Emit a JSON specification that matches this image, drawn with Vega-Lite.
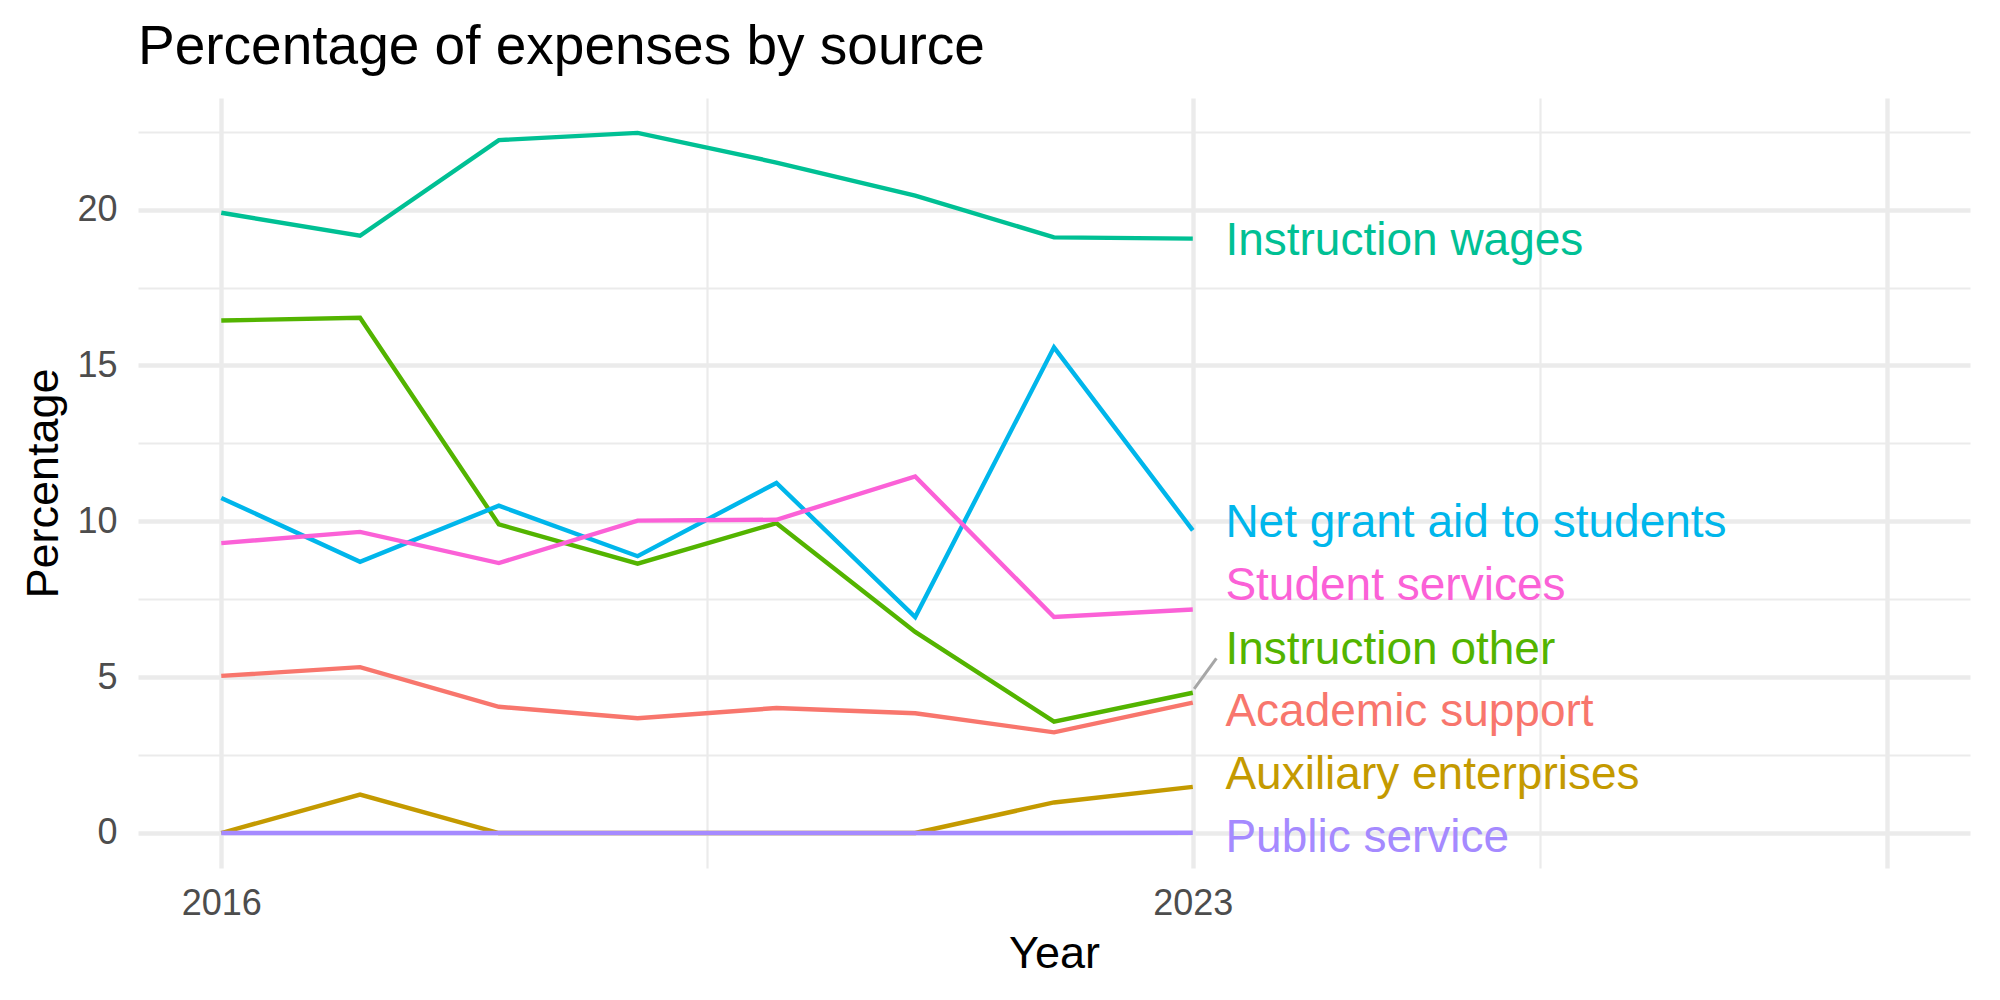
{
  "$schema": "https://vega.github.io/schema/vega-lite/v6.json",
  "autosize": {"type": "none"},
  "width": 1832,
  "height": 770,
  "padding": {"left": 138, "top": 98, "right": 30, "bottom": 132},
  "background": "white",
  "title": {
    "text": "Percentage of expenses by source",
    "anchor": "start",
    "frame": "group",
    "font": "Liberation Sans",
    "fontSize": 55,
    "fontWeight": "normal",
    "color": "#000000",
    "baseline": "alphabetic",
    "offset": 35,
    "dy": 56
  },
  "datasets": {
    "series": [
      {"year": 2016, "series": "Academic support", "value": 5.04},
      {"year": 2017, "series": "Academic support", "value": 5.32},
      {"year": 2018, "series": "Academic support", "value": 4.05},
      {"year": 2019, "series": "Academic support", "value": 3.68},
      {"year": 2020, "series": "Academic support", "value": 4.01},
      {"year": 2021, "series": "Academic support", "value": 3.84},
      {"year": 2022, "series": "Academic support", "value": 3.23},
      {"year": 2023, "series": "Academic support", "value": 4.18},
      {"year": 2016, "series": "Auxiliary enterprises", "value": 0},
      {"year": 2017, "series": "Auxiliary enterprises", "value": 1.23},
      {"year": 2018, "series": "Auxiliary enterprises", "value": 0},
      {"year": 2019, "series": "Auxiliary enterprises", "value": 0},
      {"year": 2020, "series": "Auxiliary enterprises", "value": 0},
      {"year": 2021, "series": "Auxiliary enterprises", "value": 0},
      {"year": 2022, "series": "Auxiliary enterprises", "value": 0.98},
      {"year": 2023, "series": "Auxiliary enterprises", "value": 1.48},
      {"year": 2016, "series": "Instruction other", "value": 16.44},
      {"year": 2017, "series": "Instruction other", "value": 16.53},
      {"year": 2018, "series": "Instruction other", "value": 9.9},
      {"year": 2019, "series": "Instruction other", "value": 8.64},
      {"year": 2020, "series": "Instruction other", "value": 9.94},
      {"year": 2021, "series": "Instruction other", "value": 6.45},
      {"year": 2022, "series": "Instruction other", "value": 3.57},
      {"year": 2023, "series": "Instruction other", "value": 4.5},
      {"year": 2016, "series": "Instruction wages", "value": 19.9},
      {"year": 2017, "series": "Instruction wages", "value": 19.16},
      {"year": 2018, "series": "Instruction wages", "value": 22.23},
      {"year": 2019, "series": "Instruction wages", "value": 22.46},
      {"year": 2020, "series": "Instruction wages", "value": 21.51},
      {"year": 2021, "series": "Instruction wages", "value": 20.45},
      {"year": 2022, "series": "Instruction wages", "value": 19.11},
      {"year": 2023, "series": "Instruction wages", "value": 19.07},
      {"year": 2016, "series": "Net grant aid to students", "value": 10.75},
      {"year": 2017, "series": "Net grant aid to students", "value": 8.7},
      {"year": 2018, "series": "Net grant aid to students", "value": 10.5},
      {"year": 2019, "series": "Net grant aid to students", "value": 8.88},
      {"year": 2020, "series": "Net grant aid to students", "value": 11.23},
      {"year": 2021, "series": "Net grant aid to students", "value": 6.93},
      {"year": 2022, "series": "Net grant aid to students", "value": 15.58},
      {"year": 2023, "series": "Net grant aid to students", "value": 9.71},
      {"year": 2016, "series": "Public service", "value": 0},
      {"year": 2017, "series": "Public service", "value": 0},
      {"year": 2018, "series": "Public service", "value": 0},
      {"year": 2019, "series": "Public service", "value": 0},
      {"year": 2020, "series": "Public service", "value": 0},
      {"year": 2021, "series": "Public service", "value": 0},
      {"year": 2022, "series": "Public service", "value": 0},
      {"year": 2023, "series": "Public service", "value": 0.01},
      {"year": 2016, "series": "Student services", "value": 9.3},
      {"year": 2017, "series": "Student services", "value": 9.66},
      {"year": 2018, "series": "Student services", "value": 8.66},
      {"year": 2019, "series": "Student services", "value": 10.02},
      {"year": 2020, "series": "Student services", "value": 10.05},
      {"year": 2021, "series": "Student services", "value": 11.44},
      {"year": 2022, "series": "Student services", "value": 6.93},
      {"year": 2023, "series": "Student services", "value": 7.17}
    ],
    "labels": [
      {"series": "Instruction wages", "label_year": 2023.235, "label_value": 18.99},
      {"series": "Net grant aid to students", "label_year": 2023.235, "label_value": 9.95},
      {"series": "Student services", "label_year": 2023.235, "label_value": 7.93},
      {"series": "Instruction other", "label_year": 2023.235, "label_value": 5.87},
      {"series": "Academic support", "label_year": 2023.235, "label_value": 3.87},
      {"series": "Auxiliary enterprises", "label_year": 2023.235, "label_value": 1.85},
      {"series": "Public service", "label_year": 2023.235, "label_value": -0.15}
    ],
    "leaders": [
      {"series": "Instruction other", "from_year": 2023.01, "from_value": 4.62, "to_year": 2023.17, "to_value": 5.6}
    ]
  },
  "layer": [
    {
      "data": {"name": "series"},
      "mark": {"type": "line", "strokeWidth": 4.4, "strokeJoin": "miter", "strokeCap": "butt"},
      "encoding": {
        "x": {
          "field": "year", "type": "quantitative",
          "scale": {"domain": [2015.4, 2028.6], "nice": false, "zero": false},
          "axis": {
            "title": "Year",
            "values": [2016, 2019.5, 2023, 2025.5, 2028],
            "labelExpr": "datum.value == 2016 || datum.value == 2023 ? format(datum.value, 'd') : ''",
            "labelPadding": 18,
            "titlePadding": 10,
            "gridWidth": {"condition": {"test": "datum.value == 2019.5 || datum.value == 2025.5", "value": 2.2}, "value": 4.4}
          }
        },
        "y": {
          "field": "value", "type": "quantitative",
          "scale": {"domain": [-1.123, 23.58], "nice": false, "zero": false},
          "axis": {
            "title": "Percentage",
            "values": [0, 2.5, 5, 7.5, 10, 12.5, 15, 17.5, 20, 22.5],
            "labelExpr": "datum.value % 5 == 0 ? format(datum.value, 'd') : ''",
            "labelPadding": 21,
            "titlePadding": 10,
            "gridWidth": {"condition": {"test": "datum.value % 5 != 0", "value": 2.2}, "value": 4.4}
          }
        },
        "color": {
          "field": "series", "type": "nominal", "legend": null,
          "scale": {
            "domain": ["Academic support", "Auxiliary enterprises", "Instruction other", "Instruction wages", "Net grant aid to students", "Public service", "Student services"],
            "range": ["#F8766D", "#C49A00", "#53B400", "#00C094", "#00B6EB", "#A58AFF", "#FB61D7"]
          }
        }
      }
    },
    {
      "data": {"name": "leaders"},
      "mark": {"type": "rule", "color": "#A6A6A6", "strokeWidth": 3},
      "encoding": {
        "x": {"field": "from_year", "type": "quantitative"},
        "y": {"field": "from_value", "type": "quantitative"},
        "x2": {"field": "to_year"},
        "y2": {"field": "to_value"}
      }
    },
    {
      "data": {"name": "labels"},
      "mark": {"type": "text", "align": "left", "baseline": "middle", "font": "Liberation Sans", "fontSize": 46},
      "encoding": {
        "x": {"field": "label_year", "type": "quantitative"},
        "y": {"field": "label_value", "type": "quantitative"},
        "text": {"field": "series"},
        "color": {"field": "series", "type": "nominal", "legend": null}
      }
    }
  ],
  "config": {
    "view": {"stroke": null},
    "axis": {
      "domain": false,
      "ticks": false,
      "gridColor": "#EBEBEB",
      "labelFont": "Liberation Sans",
      "labelFontSize": 36,
      "labelColor": "#4D4D4D",
      "labelOverlap": false,
      "labelFlush": false,
      "titleFont": "Liberation Sans",
      "titleFontSize": 45,
      "titleFontWeight": "normal",
      "titleColor": "#000000"
    }
  }
}
